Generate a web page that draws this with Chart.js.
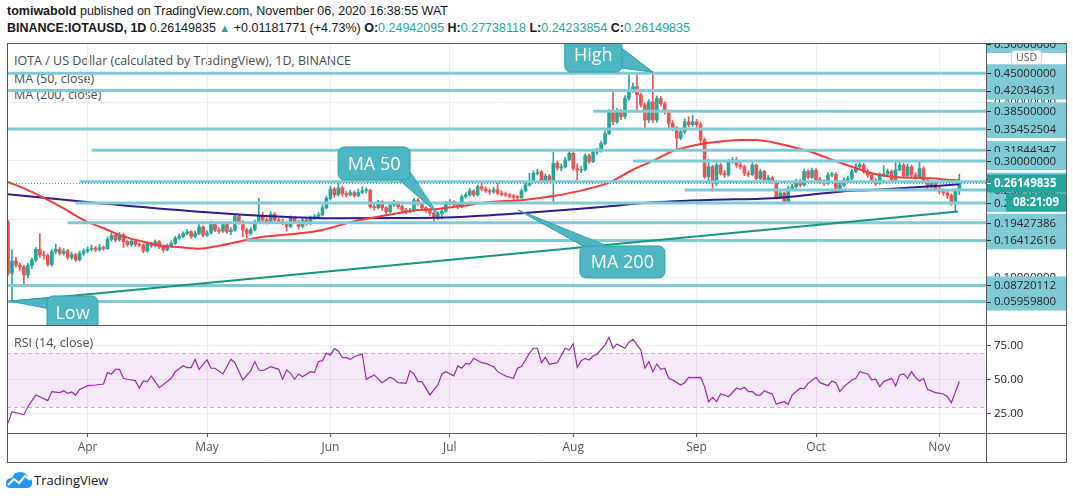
<!DOCTYPE html>
<html>
<head>
<meta charset="utf-8">
<script src="https://cdn.jsdelivr.net/npm/chart.js@4.4.0/dist/chart.umd.min.js"></script>
<style>
  body { margin: 0; width: 1073px; height: 499px; background: #fff; overflow: hidden; position: relative; font-family: "Open Sans", sans-serif; color: #131722; }
  .txt { position: absolute; white-space: nowrap; }
  #h1 { left: 7px; top: 4px; font-size: 12.5px; font-family: "Liberation Sans", sans-serif; }
  #h2 { left: 7px; top: 21px; font-size: 12.5px; font-family: "Liberation Sans", sans-serif; }
  #h2 .g { color: #26a69a; }
  #h2 .tri { color: #26a69a; font-size: 11px; }
  .legend { left: 14px; font-size: 12.5px; color: #4a4a4a; }
  #rsiLegend { z-index: 2; }
  #foot { left: 34px; top: 471px; font-size: 13px; }
  #logo { position: absolute; left: 5px; top: 471px; }
  canvas { position: absolute; left: 0; z-index: 1; }
  #price { top: 0; }
  #rsi { top: 325px; }
</style>
</head>
<body>
<div id="h1" class="txt"><b>tomiwabold</b> published on TradingView.com, November 06, 2020 16:38:55 WAT</div>
<div id="h2" class="txt"><b>BINANCE:IOTAUSD, 1D</b> 0.26149835 <span class="tri">▲</span> +0.01181771 (+4.73%) <b>O:</b><span class="g">0.24942095</span> <b>H:</b><span class="g">0.27738118</span> <b>L:</b><span class="g">0.24233854</span> <b>C:</b><span class="g">0.26149835</span></div>
<div class="txt legend" style="top:52px">IOTA / US Dollar (calculated by TradingView), 1D, BINANCE</div>
<div class="txt legend" style="top:70px">MA (50, close)</div>
<div class="txt legend" style="top:86px">MA (200, close)</div>
<div id="rsiLegend" class="txt legend" style="top:334px">RSI (14, close)</div>
<svg id="logo" width="28" height="18" viewBox="0 0 28 18"><path d="M6 17 Q0 17 1 11 Q2 7 7 7 Q9 1 15 1 Q22 1 23 7 Q28 8 27 13 Q26 17 22 17 Z" fill="#2196f3"/><polyline points="3,14 9,8 14,12 20,5 25,9" fill="none" stroke="#fff" stroke-width="2"/></svg>
<div id="foot" class="txt">TradingView</div>
<canvas id="price" width="1073" height="325"></canvas>
<canvas id="rsi" width="1073" height="174"></canvas>
<script>
// daily candles from 2020-03-12 (index 0) to 2020-11-06
const firstOpen = 0.196;
const closes = [
  0.108,0.129,0.122,0.119,0.105,0.121,0.131,0.149,0.139,0.138,
  0.123,0.145,0.149,0.142,0.146,0.135,0.140,0.131,0.142,0.146,
  0.149,0.151,0.148,0.152,0.150,0.166,0.173,0.165,0.174,0.162,
  0.157,0.163,0.157,0.156,0.146,0.159,0.155,0.162,0.153,0.148,
  0.155,0.159,0.168,0.171,0.176,0.179,0.171,0.176,0.187,0.173,
  0.177,0.193,0.182,0.180,0.192,0.179,0.182,0.205,0.196,0.182,
  0.176,0.182,0.196,0.207,0.199,0.196,0.209,0.199,0.197,0.194,
  0.188,0.203,0.196,0.188,0.199,0.193,0.203,0.205,0.208,0.220,
  0.236,0.252,0.242,0.254,0.244,0.242,0.246,0.241,0.246,0.249,
  0.250,0.222,0.220,0.230,0.220,0.213,0.225,0.229,0.222,0.216,
  0.213,0.215,0.233,0.227,0.220,0.215,0.211,0.205,0.210,0.214,
  0.228,0.230,0.225,0.222,0.239,0.242,0.249,0.242,0.256,0.252,
  0.249,0.247,0.251,0.245,0.243,0.242,0.240,0.238,0.237,0.249,
  0.259,0.266,0.279,0.281,0.265,0.274,0.267,0.296,0.288,0.290,
  0.302,0.313,0.287,0.284,0.285,0.309,0.299,0.315,0.317,0.330,
  0.347,0.384,0.367,0.384,0.376,0.407,0.421,0.427,0.413,0.396,
  0.370,0.401,0.370,0.407,0.398,0.384,0.364,0.356,0.339,0.350,
  0.367,0.362,0.367,0.362,0.336,0.273,0.290,0.262,0.293,0.279,
  0.276,0.299,0.302,0.293,0.290,0.279,0.277,0.293,0.270,0.282,
  0.267,0.271,0.265,0.239,0.245,0.230,0.253,0.256,0.265,0.259,
  0.282,0.272,0.284,0.268,0.265,0.262,0.276,0.277,0.253,0.259,
  0.267,0.270,0.282,0.290,0.293,0.282,0.276,0.267,0.262,0.276,
  0.278,0.282,0.268,0.285,0.293,0.275,0.290,0.276,0.273,0.287,
  0.267,0.256,0.262,0.253,0.248,0.245,0.241,0.230,0.24942095,0.26149835
];
const highs = [
  0.199,0.148,0.135,0.126,0.122,0.125,0.134,0.152,0.176,0.146,
  0.141,0.149,0.158,0.152,0.150,0.149,0.144,0.142,0.146,0.150,
  0.153,0.156,0.154,0.157,0.155,0.170,0.177,0.176,0.178,0.176,
  0.164,0.166,0.165,0.160,0.158,0.162,0.161,0.165,0.164,0.156,
  0.158,0.163,0.171,0.175,0.179,0.183,0.181,0.180,0.191,0.189,
  0.181,0.197,0.195,0.186,0.195,0.194,0.186,0.208,0.207,0.198,
  0.185,0.186,0.199,0.236,0.212,0.203,0.213,0.212,0.203,0.201,
  0.197,0.206,0.205,0.198,0.203,0.201,0.206,0.209,0.212,0.224,
  0.240,0.257,0.255,0.267,0.257,0.248,0.250,0.249,0.252,0.256,
  0.254,0.252,0.226,0.233,0.232,0.222,0.228,0.233,0.231,0.225,
  0.219,0.219,0.236,0.236,0.229,0.222,0.218,0.213,0.213,0.218,
  0.231,0.234,0.232,0.228,0.242,0.246,0.253,0.251,0.259,0.264,
  0.256,0.252,0.255,0.262,0.249,0.247,0.245,0.243,0.241,0.252,
  0.262,0.279,0.283,0.286,0.284,0.278,0.277,0.315,0.300,0.295,
  0.306,0.318,0.318,0.295,0.291,0.312,0.312,0.319,0.322,0.334,
  0.352,0.388,0.421,0.390,0.388,0.412,0.447,0.433,0.447,0.416,
  0.399,0.405,0.452,0.411,0.410,0.401,0.387,0.369,0.359,0.354,
  0.372,0.376,0.378,0.371,0.366,0.339,0.303,0.293,0.297,0.296,
  0.284,0.303,0.306,0.306,0.300,0.293,0.283,0.297,0.295,0.286,
  0.284,0.275,0.274,0.267,0.249,0.247,0.257,0.260,0.269,0.268,
  0.286,0.285,0.288,0.287,0.272,0.268,0.280,0.281,0.280,0.263,
  0.271,0.274,0.286,0.295,0.297,0.296,0.285,0.279,0.270,0.280,
  0.292,0.286,0.285,0.300,0.298,0.296,0.295,0.293,0.280,0.301,
  0.290,0.270,0.266,0.265,0.257,0.252,0.249,0.244,0.252,0.27738118
];
const lows = [
  0.104,0.0596,0.118,0.113,0.087,0.100,0.116,0.128,0.135,0.132,
  0.120,0.120,0.142,0.139,0.139,0.132,0.131,0.128,0.129,0.139,
  0.143,0.146,0.145,0.146,0.147,0.149,0.163,0.162,0.163,0.152,
  0.154,0.154,0.154,0.153,0.143,0.144,0.152,0.153,0.150,0.144,
  0.146,0.153,0.157,0.166,0.169,0.174,0.168,0.169,0.174,0.170,
  0.171,0.175,0.179,0.176,0.178,0.176,0.174,0.180,0.192,0.170,
  0.168,0.173,0.180,0.194,0.196,0.192,0.194,0.196,0.194,0.191,
  0.180,0.186,0.193,0.183,0.186,0.190,0.191,0.200,0.202,0.206,
  0.218,0.233,0.238,0.240,0.240,0.238,0.240,0.238,0.239,0.244,
  0.245,0.219,0.216,0.218,0.216,0.209,0.211,0.222,0.219,0.213,
  0.210,0.211,0.213,0.224,0.217,0.212,0.207,0.193,0.200,0.201,
  0.212,0.225,0.222,0.218,0.220,0.236,0.240,0.239,0.240,0.249,
  0.246,0.243,0.245,0.242,0.240,0.239,0.237,0.234,0.234,0.236,
  0.247,0.257,0.264,0.276,0.262,0.262,0.263,0.230,0.284,0.283,
  0.288,0.300,0.284,0.267,0.280,0.283,0.296,0.297,0.311,0.315,
  0.328,0.345,0.362,0.364,0.370,0.372,0.404,0.417,0.387,0.392,
  0.356,0.366,0.366,0.366,0.394,0.380,0.355,0.352,0.319,0.336,
  0.347,0.358,0.359,0.355,0.332,0.270,0.262,0.248,0.258,0.276,
  0.272,0.274,0.296,0.289,0.286,0.275,0.273,0.275,0.266,0.268,
  0.263,0.264,0.261,0.235,0.236,0.227,0.228,0.250,0.253,0.255,
  0.257,0.269,0.270,0.264,0.261,0.258,0.260,0.273,0.249,0.250,
  0.256,0.264,0.268,0.280,0.287,0.279,0.272,0.263,0.258,0.260,
  0.273,0.275,0.264,0.266,0.283,0.271,0.273,0.272,0.269,0.271,
  0.263,0.252,0.253,0.249,0.244,0.241,0.236,0.224,0.213,0.24233854
];

// moving averages (day index -> value)
const ma50Days = [0,4,9,14,19,24,29,34,39,44,48,53,58,63,68,73,79,87,95,103,108,115,121,129,137,145,151,157,162,167,172,176,184,188,192,197,202,207,212,217,222,227,232,237,239];
const ma50Values = [0.264,0.253,0.237,0.219,0.199,0.185,0.171,0.162,0.155,0.152,0.150,0.155,0.162,0.169,0.173,0.176,0.182,0.197,0.207,0.216,0.218,0.224,0.230,0.233,0.240,0.251,0.263,0.285,0.300,0.317,0.326,0.331,0.336,0.336,0.332,0.324,0.315,0.302,0.290,0.279,0.273,0.2714,0.2704,0.2675,0.267];
const ma200Days = [0,23,48,65,82,98,112,129,154,159,176,192,201,209,217,226,234,239];
const ma200Values = [0.243,0.2277,0.2133,0.206,0.202,0.2025,0.2037,0.2106,0.2242,0.2277,0.2333,0.2362,0.2418,0.2475,0.2504,0.2543,0.2578,0.2601];

// RSI (14)
const rsiDays = [0,1,4,5,7,8,10,11,13,14,15,16,17,18,19,20,22,24,25,26,27,28,29,30,32,33,34,35,36,38,40,41,42,44,45,46,47,48,50,51,52,54,56,57,59,61,62,63,64,66,68,69,70,71,72,73,74,76,77,78,79,80,81,82,83,84,85,86,87,89,90,92,94,96,97,98,100,101,102,103,104,106,108,109,110,112,113,114,115,116,117,119,120,122,123,125,127,128,129,131,132,133,134,135,136,138,140,141,142,143,144,145,146,147,148,150,151,152,153,155,156,157,159,160,161,162,163,164,165,166,167,169,170,171,172,174,175,176,177,178,179,180,181,183,184,185,186,187,188,189,190,191,192,193,195,196,197,199,200,201,203,204,206,207,208,209,210,212,213,214,216,217,218,219,220,222,223,224,225,226,227,228,229,230,231,233,235,236,237,239];
const rsiValues = [18.1,26.7,24.3,30.4,39.0,37.7,34.8,41.4,40.7,42.1,40.2,41.2,38.7,43.1,44.3,45.8,46.3,47.0,55.4,54.4,57.8,57.8,51.2,50.5,49.5,43.9,49.3,48.8,52.9,44.3,48.8,51.2,56.1,60.5,59.0,59.0,65.2,57.8,64.7,58.6,58.6,54.4,65.2,62.7,50.0,56.8,63.5,57.3,56.8,59.8,57.8,50.5,57.3,54.9,50.5,54.4,52.4,56.1,55.4,63.5,64.2,69.6,68.4,73.0,71.3,66.4,66.4,65.2,67.1,69.1,50.5,53.7,48.0,52.0,50.5,48.0,47.5,56.8,54.4,48.8,48.8,39.0,46.3,54.4,56.1,52.9,60.3,58.6,62.2,61.7,65.9,62.7,62.2,59.8,56.1,52.9,51.2,58.6,59.8,69.6,73.3,73.3,62.7,66.6,61.5,62.7,73.3,72.0,76.5,59.3,64.2,65.9,64.7,67.6,68.9,75.7,81.4,73.3,76.5,73.3,77.7,79.9,72.0,58.6,63.5,56.1,61.7,57.8,58.6,51.2,50.0,46.3,48.0,51.9,51.7,51.9,45.1,34.0,37.2,34.0,39.7,38.9,37.7,43.9,43.1,44.6,41.4,41.4,38.9,38.9,42.1,40.7,39.7,32.3,34.0,32.1,38.9,43.9,43.4,47.5,51.9,48.0,45.8,49.3,48.0,41.4,45.1,50.0,51.2,56.1,54.4,50.0,50.5,45.1,48.8,51.2,45.6,53.7,54.4,51.2,56.1,51.9,49.3,51.2,43.1,40.7,39.7,37.7,33.3,48.8];

// drawings: horizontal levels (price, first day; null = label only) and the rising trend line
const levelPrices = [0.50, 0.45, 0.42034631, 0.385, 0.35452504, 0.31844347, 0.30, 0.2646, 0.2504, 0.2282, 0.19427386, 0.16412616, 0.08720112, 0.059598];
const levelFrom = [null, -1, -1, 147, -1, 21, 157, 18, 170, 17, 15, 60, -1, -1];
const trendDays = [1, 238.7];
const trendPrices = [0.0596, 0.2136];

const monthDays = [20, 50, 81, 111, 142, 173, 203, 234];
const monthLabels = ['Apr', 'May', 'Jun', 'Jul', 'Aug', 'Sep', 'Oct', 'Nov'];
const priceTicks = [0.1, 0.2, 0.3, 0.4];
const rsiTicks = [25, 50, 75];
const dayMin = -0.25, dayMax = 245.7;
const priceMin = 0.0195, priceMax = 0.5017;
const rsiMin = 11, rsiMax = 90.4;

const GREEN = '#26a69a', RED = '#ef5350', CYAN = '#80cad6', GRID = '#e8eef3', FRAME = '#555a61';
Chart.defaults.font.family = '"Open Sans", sans-serif';

const opens = closes.map((c, i) => i === 0 ? firstOpen : closes[i - 1]);
const candleColors = closes.map((c, i) => c >= opens[i] ? GREEN : RED);
const lastClose = closes[closes.length - 1];

const levelSets = levelPrices.map((p, i) => ({
  type: 'line',
  data: levelFrom[i] === null ? [] : [{ x: levelFrom[i], y: p }, { x: dayMax, y: p }],
  borderColor: CYAN, borderWidth: 3, pointRadius: 0, order: 2
}));

const callouts = [
  { text: 'High', tip: [162, 0.452], box: [-88, -35, 57, 35], base: [[-35, -27], [-32, -4]] },
  { text: 'MA 50', tip: [107.8, 0.2111], box: [-99, -66, 72, 33], base: [[-39, -34], [-27, -41]] },
  { text: 'MA 200', tip: [128.1, 0.2162], box: [62, 36, 85, 32], base: [[67, 37], [92, 37]] },
  { text: 'Low', tip: [0.25, 0.0606], box: [38, -5, 51, 34], base: [[41, -3], [41, 8]] }
];

const frameLine = (ctx, x1, y1, x2, y2) => {
  ctx.beginPath(); ctx.moveTo(x1, y1); ctx.lineTo(x2, y2); ctx.stroke();
};

// keep the plot areas exactly where the panes sit: no room reserved for tick label overflow
const fitRight = s => { s.width = 80; s.paddingTop = 0; s.paddingBottom = 0; };

const priceDecor = {
  id: 'priceDecor',
  afterDatasetsDraw(chart) {
    const { ctx, chartArea: a, scales: { x, y } } = chart;
    ctx.save();
    ctx.beginPath(); ctx.rect(a.left, a.top, a.right - a.left, a.bottom - a.top); ctx.clip();
    callouts.forEach(c => {
      const tx = x.getPixelForValue(c.tip[0]), ty = y.getPixelForValue(c.tip[1]);
      const [bx, by, bw, bh] = c.box;
      ctx.fillStyle = '#4db6c2';
      ctx.strokeStyle = '#2f9fad';
      ctx.lineWidth = 1;
      ctx.beginPath();
      ctx.moveTo(tx + c.base[0][0], ty + c.base[0][1]);
      ctx.lineTo(tx, ty);
      ctx.lineTo(tx + c.base[1][0], ty + c.base[1][1]);
      ctx.closePath();
      ctx.fill(); ctx.stroke();
      ctx.beginPath();
      ctx.roundRect(tx + bx, ty + by, bw, bh, 6);
      ctx.fill(); ctx.stroke();
      ctx.fillStyle = '#fff';
      ctx.font = '18px "Open Sans"';
      ctx.textAlign = 'center'; ctx.textBaseline = 'middle';
      ctx.fillText(c.text, tx + bx + bw / 2, ty + by + bh / 2 + 1);
    });
    ctx.restore();
  },
  afterDraw(chart) {
    const { ctx, chartArea: a, scales: { y } } = chart;
    ctx.save();
    ctx.beginPath(); ctx.rect(a.right, a.top, 81, a.bottom - a.top); ctx.clip();
    ctx.textBaseline = 'middle'; ctx.textAlign = 'left';
    const label = (py, bg, fg, txt, bold) => {
      ctx.fillStyle = bg;
      ctx.fillRect(a.right + 1, py - 9, 79, 18);
      ctx.strokeStyle = fg; ctx.lineWidth = 1;
      frameLine(ctx, a.right, Math.round(py) + 0.5, a.right + 5, Math.round(py) + 0.5);
      ctx.fillStyle = fg;
      ctx.font = (bold ? 'bold ' : '') + '11.5px "Open Sans"';
      ctx.fillText(txt, a.right + 8, py + 0.5);
    };
    levelPrices.forEach(p => label(y.getPixelForValue(p), CYAN, '#222', p.toFixed(8), false));
    const cy = y.getPixelForValue(lastClose);
    label(cy, GREEN, '#fff', lastClose.toFixed(8), true);
    ctx.fillStyle = GREEN;
    ctx.fillRect(a.right + 20, cy + 10, 60, 18);
    ctx.fillStyle = '#fff';
    ctx.font = 'bold 11.5px "Open Sans"';
    ctx.fillText('08:21:09', a.right + 27, cy + 19.5);
    // currency badge
    ctx.fillStyle = '#fff'; ctx.strokeStyle = '#c8cbd0';
    ctx.beginPath(); ctx.roundRect(1011.5, 50.5, 30, 14, 3); ctx.fill(); ctx.stroke();
    ctx.fillStyle = '#50535e'; ctx.font = '10.5px "Open Sans"'; ctx.textAlign = 'center';
    ctx.fillText('USD', 1026.5, 58);
    ctx.restore();
    ctx.save();
    ctx.strokeStyle = FRAME; ctx.lineWidth = 1;
    frameLine(ctx, a.left, a.top + 0.5, 1066, a.top + 0.5);
    frameLine(ctx, a.left + 0.5, a.top, a.left + 0.5, a.bottom);
    frameLine(ctx, a.right + 0.5, a.top, a.right + 0.5, a.bottom);
    frameLine(ctx, 1066.5, a.top, 1066.5, a.bottom);
    ctx.restore();
  }
};

const rsiDecor = {
  id: 'rsiDecor',
  beforeDatasetsDraw(chart) {
    const { ctx, chartArea: a, scales: { y } } = chart;
    const top = y.getPixelForValue(70), bot = y.getPixelForValue(30);
    ctx.save();
    ctx.fillStyle = 'rgba(156, 39, 176, 0.1)';
    ctx.fillRect(a.left, top, a.right - a.left, bot - top);
    ctx.strokeStyle = '#b8b8bd'; ctx.setLineDash([4, 3]); ctx.lineWidth = 1;
    frameLine(ctx, a.left, Math.round(top) + 0.5, a.right, Math.round(top) + 0.5);
    frameLine(ctx, a.left, Math.round(bot) + 0.5, a.right, Math.round(bot) + 0.5);
    ctx.restore();
  },
  afterDraw(chart) {
    const { ctx, chartArea: a } = chart;
    ctx.save();
    ctx.strokeStyle = FRAME; ctx.lineWidth = 1;
    frameLine(ctx, a.left, 0.5, 1066, 0.5);
    frameLine(ctx, a.left, a.bottom + 0.5, 1066, a.bottom + 0.5);
    frameLine(ctx, a.left, a.bottom + 29.5, 1066, a.bottom + 29.5);
    frameLine(ctx, a.left + 0.5, 0, a.left + 0.5, a.bottom + 30);
    frameLine(ctx, a.right + 0.5, 0, a.right + 0.5, a.bottom + 30);
    frameLine(ctx, 1066.5, 0, 1066.5, a.bottom + 30);
    ctx.restore();
  }
};

const monthAxis = (extra) => Object.assign({
  type: 'linear', min: dayMin, max: dayMax, offset: false,
  afterBuildTicks: s => { s.ticks = monthDays.map(v => ({ value: v })); },
  border: { display: false }
}, extra);

new Chart(document.getElementById('price'), {
  type: 'bar',
  data: {
    datasets: [
      ...levelSets,
      { type: 'line', data: trendDays.map((d, i) => ({ x: d, y: trendPrices[i] })), borderColor: '#17967a', borderWidth: 2, pointRadius: 0, order: 1 },
      { type: 'line', data: [{ x: dayMin, y: lastClose }, { x: dayMax, y: lastClose }], borderColor: GREEN, borderWidth: 1, borderDash: [1, 2], pointRadius: 0, order: 0 },
      { type: 'line', data: ma50Days.map((d, i) => ({ x: d, y: ma50Values[i] })), borderColor: '#f23c3c', borderWidth: 2, pointRadius: 0, cubicInterpolationMode: 'monotone', order: 5 },
      { type: 'line', data: ma200Days.map((d, i) => ({ x: d, y: ma200Values[i] })), borderColor: '#2d1b8c', borderWidth: 2, pointRadius: 0, cubicInterpolationMode: 'monotone', order: 5 },
      { data: closes.map((c, i) => ({ x: i, y: [lows[i], highs[i]] })), backgroundColor: candleColors, barThickness: 1, grouped: false, order: 10 },
      { data: closes.map((c, i) => ({ x: i, y: [opens[i], c] })), backgroundColor: candleColors, barThickness: 3, minBarLength: 1, grouped: false, order: 9 }
    ]
  },
  options: {
    animation: false, responsive: false,
    layout: { padding: { left: 7, top: 43, right: 7, bottom: 0 } },
    plugins: { legend: { display: false }, tooltip: { enabled: false } },
    scales: {
      x: monthAxis({
        afterFit: s => { s.height = 0; s.paddingLeft = 0; s.paddingRight = 0; },
        ticks: { display: false },
        grid: { color: GRID, drawTicks: false, offset: false }
      }),
      y: {
        position: 'right', min: priceMin, max: priceMax,
        afterBuildTicks: s => { s.ticks = priceTicks.map(v => ({ value: v })); },
        afterFit: fitRight,
        ticks: { callback: v => v.toFixed(8), color: '#131722', font: { size: 11.5 }, padding: 3, autoSkip: false },
        grid: { color: GRID, tickLength: 5, tickColor: '#555' },
        border: { display: false }
      }
    }
  },
  plugins: [priceDecor]
});

new Chart(document.getElementById('rsi'), {
  type: 'line',
  data: {
    datasets: [{ data: rsiDays.map((d, i) => ({ x: d, y: rsiValues[i] })), borderColor: '#9c27b0', borderWidth: 1.2, pointRadius: 0 }]
  },
  options: {
    animation: false, responsive: false,
    layout: { padding: { left: 7, top: 0, right: 7, bottom: 37 } },
    plugins: { legend: { display: false }, tooltip: { enabled: false } },
    scales: {
      x: monthAxis({
        afterFit: s => { s.height = 29; s.paddingLeft = 0; s.paddingRight = 0; },
        ticks: { callback: v => monthLabels[monthDays.indexOf(v)], color: '#50535e', font: { size: 12 }, padding: 3, autoSkip: false, maxRotation: 0 },
        grid: { color: GRID, tickLength: 4, tickColor: '#555' }
      }),
      y: {
        position: 'right', min: rsiMin, max: rsiMax,
        afterBuildTicks: s => { s.ticks = rsiTicks.map(v => ({ value: v })); },
        afterFit: fitRight,
        ticks: { callback: v => v.toFixed(2), color: '#131722', font: { size: 11.5 }, padding: 3, autoSkip: false },
        grid: { color: GRID, tickLength: 5, tickColor: '#555' },
        border: { display: false }
      }
    }
  },
  plugins: [rsiDecor]
});
</script>
</body>
</html>
